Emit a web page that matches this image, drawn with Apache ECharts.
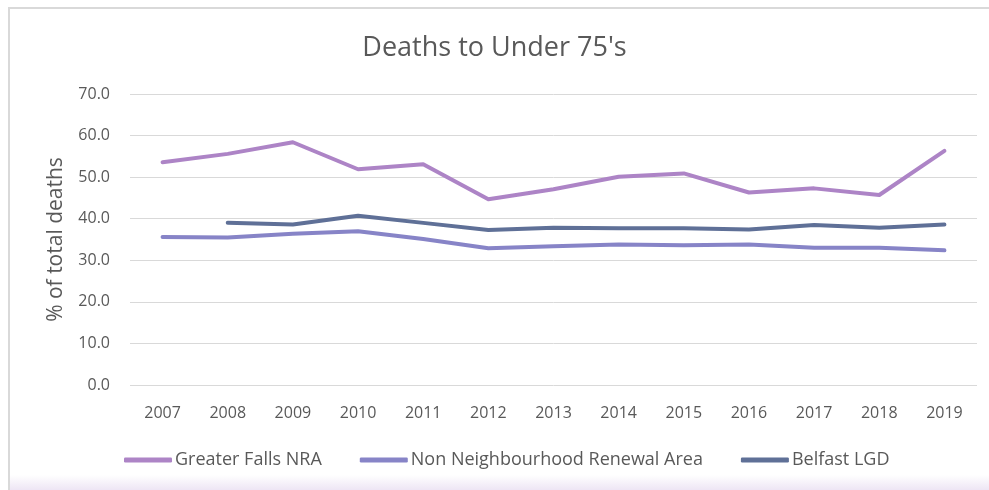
<!DOCTYPE html>
<html>
<head>
<meta charset="utf-8">
<script src="https://cdn.jsdelivr.net/npm/echarts@6/dist/echarts.min.js"></script>
<style>
  html, body { margin: 0; padding: 0; background: #fff; }
  #frame {
    position: absolute; left: 8px; top: 7px; width: 990px; height: 483px;
    border-left: 2px solid #d9d9d9; border-top: 2px solid #d9d9d9;
    background: linear-gradient(to bottom, #fff 0, #fff 466px, #ebe2f3 483px);
  }
  #chart { position: absolute; left: 0; top: 0; width: 989px; height: 490px; }
</style>
</head>
<body>
<div id="frame"></div>
<div id="chart"></div>
<script>
// data
const years = ['2007', '2008', '2009', '2010', '2011', '2012', '2013', '2014', '2015', '2016', '2017', '2018', '2019']
const greaterFalls = [53.6, 55.6, 58.4, 51.9, 53.1, 44.7, 47.1, 50.1, 50.9, 46.3, 47.3, 45.7, 56.3]
const nonNRA = [35.6, 35.5, 36.4, 37.0, 35.1, 32.9, 33.4, 33.8, 33.6, 33.8, 33.0, 33.0, 32.4]
const belfast = [null, 39.0, 38.6, 40.7, 39.0, 37.3, 37.8, 37.7, 37.7, 37.4, 38.5, 37.8, 38.6]
const seriesNames = ['Greater Falls NRA', 'Non Neighbourhood Renewal Area', 'Belfast LGD']
const w_color = ['#ad84c6', '#8784c7', '#5f7097']

const font = 'Open Sans, sans-serif'
const lineOf = (name, data) => ({
  name: name,
  type: 'line',
  data: data,
  symbol: 'none',
  lineStyle: { width: 4, cap: 'round', join: 'round' }
})

const chart = echarts.init(document.getElementById('chart'))
chart.setOption({
  color: w_color,
  animation: false,
  title: {
    text: "Deaths to Under 75's",
    left: 'center',
    top: 30,
    textStyle: { fontFamily: font, fontSize: 27, fontWeight: 'normal', color: '#595959' }
  },
  legend: {
    data: seriesNames,
    top: 446,
    left: 119,
    itemWidth: 48,
    itemHeight: 5,
    itemGap: 38,
    icon: 'roundRect',
    textStyle: { fontFamily: font, fontSize: 18, color: '#595959', padding: [0, 0, 0, -2] }
  },
  grid: { left: 130, right: 12, top: 94, bottom: 105 },
  xAxis: {
    type: 'category',
    data: years,
    axisLine: { show: false },
    axisTick: { show: false },
    axisLabel: { fontFamily: font, fontSize: 16, color: '#595959', margin: 20 }
  },
  yAxis: {
    type: 'value',
    min: 0,
    max: 70,
    interval: 10,
    name: '% of total deaths',
    nameLocation: 'middle',
    nameGap: 63,
    nameTextStyle: { fontFamily: font, fontSize: 21, color: '#595959' },
    axisLabel: { fontFamily: font, fontSize: 16, color: '#595959', margin: 20, formatter: v => v.toFixed(1) },
    splitLine: { lineStyle: { color: '#d9d9d9', width: 1 } }
  },
  series: [
    lineOf(seriesNames[0], greaterFalls),
    lineOf(seriesNames[1], nonNRA),
    lineOf(seriesNames[2], belfast)
  ]
})
</script>
</body>
</html>
